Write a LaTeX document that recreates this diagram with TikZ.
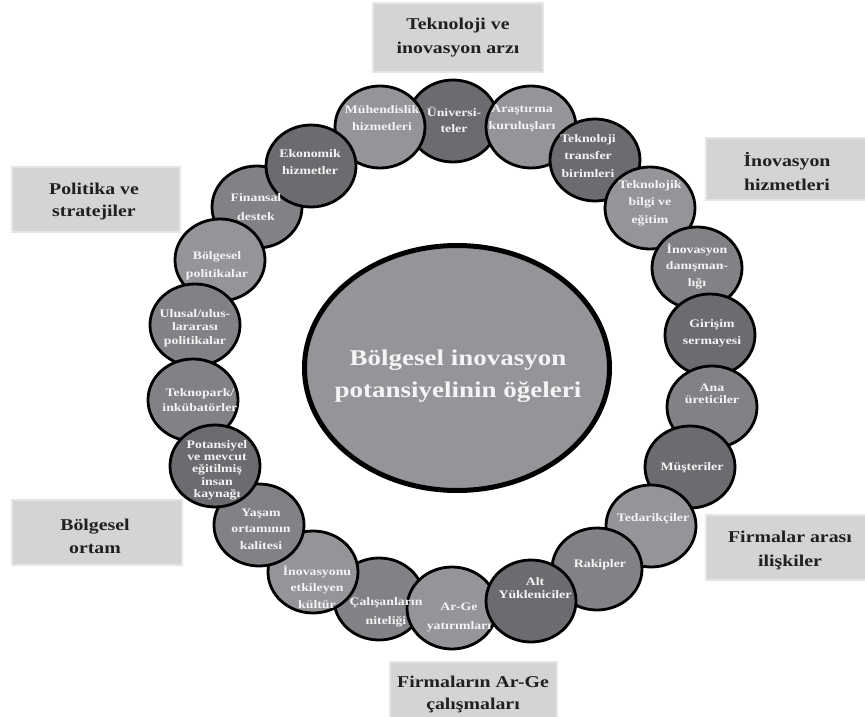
\documentclass[tikz,border=0pt]{standalone}
\usepackage{fontspec}
\setmainfont[FakeStretch=1.2]{Liberation Serif}
\usetikzlibrary{shapes.geometric}
\definecolor{glight}{HTML}{939598}
\definecolor{gmid}{HTML}{808285}
\definecolor{gdark}{HTML}{6B6C6F}
\definecolor{boxfill}{HTML}{D3D4D6}
\definecolor{boxedge}{HTML}{E4E5E6}
\definecolor{ink}{HTML}{231F20}
\definecolor{wtext}{HTML}{F4F4F4}
\tikzset{
  circ/.style={ellipse, draw=black, line width=2.8pt, minimum width=90pt, minimum height=82pt, inner sep=0pt},
  ctext/.style={text=wtext, font=\bfseries\fontsize{11.5}{17}\selectfont, align=center, inner sep=0pt},
  lbox/.style={fill=boxfill, draw=boxedge, line width=2pt, inner sep=0pt},
  btext/.style={text=ink, align=center, font=\bfseries\fontsize{16.5}{24}\selectfont},
}
\begin{document}
\begin{tikzpicture}[x=1pt,y=-1pt]
\useasboundingbox (0,0) rectangle (865,717);
% boxes
\node[lbox, minimum width=170pt, minimum height=69pt] (b1) at (458,37.5) {};
\node[btext] (bt1) at (458,37.5) {Teknoloji ve\\inovasyon arzı};
\node[lbox, minimum width=160pt, minimum height=62pt] (b2) at (786,169) {};
\node[btext] (bt2) at (787,172) {İnovasyon\\hizmetleri};
\node[lbox, minimum width=168pt, minimum height=65pt] (b3) at (96,199.5) {};
\node[btext, font=\bfseries\fontsize{16.5}{22}\selectfont] (bt3) at (94,202) {Politika ve\\stratejiler};
\node[lbox, minimum width=170pt, minimum height=65pt] (b4) at (97,532.5) {};
\node[btext, font=\bfseries\fontsize{16.5}{23}\selectfont] (bt4) at (95,536) {Bölgesel\\ortam};
\node[lbox, minimum width=160pt, minimum height=65pt] (b5) at (786,547.5) {};
\node[btext] (bt5) at (790,550) {Firmalar arası\\ilişkiler};
\node[lbox, minimum width=167pt, minimum height=70pt] (b6) at (473.5,697) {};
\node[btext, font=\bfseries\fontsize{16.5}{22}\selectfont] (bt6) at (473,694) {Firmaların Ar-Ge\\çalışmaları};
% center
\node[ellipse, draw=black, line width=5pt, fill=glight, minimum width=305pt, minimum height=245pt] (core) at (457,368) {};
\node[text=wtext, align=center, font=\bfseries\fontsize{22.5}{32}\selectfont] (coret) at (458,376) {Bölgesel inovasyon\\potansiyelinin öğeleri};
% ring circles (drawing order approximates overlaps)
\node[circ, fill=gdark] (c1) at (453,121) {};
\node[circ, fill=glight] (c22) at (380,127) {};
\node[circ, fill=gmid] (c20) at (257,207) {};
\node[circ, fill=gdark] (c21) at (311,166) {};
\node[circ, fill=glight] (c19) at (220,260) {};
\node[circ, fill=gmid] (c18) at (195,325) {};
\node[circ, fill=gmid] (c17) at (193,400) {};
\node[circ, fill=gmid] (c13) at (379,599) {};
\node[circ, fill=glight] (c14) at (313,572) {};
\node[circ, fill=gmid] (c15) at (259,525) {};
\node[circ, fill=gdark] (c16) at (215,466) {};
\node[circ, fill=glight] (c12) at (452,608) {};
\node[circ, fill=glight] (c2) at (531,127) {};
\node[circ, fill=gdark] (c3) at (595,160) {};
\node[circ, fill=glight] (c4) at (650,208) {};
\node[circ, fill=gmid] (c5) at (697,268) {};
\node[circ, fill=gdark] (c6) at (710,335) {};
\node[circ, fill=gmid] (c7) at (712,407) {};
\node[circ, fill=gdark] (c8) at (690,467) {};
\node[circ, fill=glight] (c9) at (651,526) {};
\node[circ, fill=gmid] (c10) at (597,569) {};
\node[circ, fill=gdark] (c11) at (531,601) {};
% texts
\node[ctext, font=\bfseries\fontsize{11.5}{16}\selectfont] (t1) at (454,120) {Üniversi-\\teler};
\node[ctext] (t2) at (522,118) {Araştırma\\kuruluşları};
\node[ctext, font=\bfseries\fontsize{11.5}{17.5}\selectfont] (t3) at (588,156) {Teknoloji\\transfer\\birimleri};
\node[ctext, font=\bfseries\fontsize{11.5}{17.5}\selectfont] (t4) at (650,203) {Teknolojik\\bilgi ve\\eğitim};
\node[ctext, font=\bfseries\fontsize{11.5}{16.5}\selectfont] (t5) at (697,266) {İnovasyon\\danışman-\\lığı};
\node[ctext] (t6) at (712,333) {Girişim\\sermayesi};
\node[ctext, font=\bfseries\fontsize{11.5}{12.5}\selectfont] (t7) at (712,394) {Ana\\üreticiler};
\node[ctext] (t8) at (692,468) {Müşteriler};
\node[ctext] (t9) at (653,519) {Tedarikçiler};
\node[ctext] (t10) at (600,565) {Rakipler};
\node[ctext, font=\bfseries\fontsize{11.5}{13}\selectfont] (t11) at (535,588) {Alt\\Yükleniciler};
\node[ctext, font=\bfseries\fontsize{11.5}{19}\selectfont] (t12) at (459,617) {Ar-Ge\\yatırımları};
\node[ctext, font=\bfseries\fontsize{11.5}{19}\selectfont] (t13) at (386,612) {Çalışanların\\niteliği};
\node[ctext, font=\bfseries\fontsize{11.5}{16.5}\selectfont] (t14) at (317,587) {İnovasyonu\\etkileyen\\kültür};
\node[ctext, font=\bfseries\fontsize{11.5}{16.5}\selectfont] (t15) at (261,529) {Yaşam\\ortamının\\kalitesi};
\node[ctext, font=\bfseries\fontsize{11.5}{12.3}\selectfont] (t16) at (217,470) {Potansiyel\\ve mevcut\\eğitilmiş\\insan\\kaynağı};
\node[ctext, font=\bfseries\fontsize{11.5}{15}\selectfont] (t17) at (200,400) {Teknopark/\\inkübatörler};
\node[ctext, font=\bfseries\fontsize{11.5}{13.5}\selectfont] (t18) at (195,328) {Ulusal/ulus-\\lararası\\politikalar};
\node[ctext, font=\bfseries\fontsize{11.5}{18}\selectfont] (t19) at (217,266) {Bölgesel\\politikalar};
\node[ctext, font=\bfseries\fontsize{11.5}{19}\selectfont] (t20) at (256,207) {Finansal\\destek};
\node[ctext] (t21) at (310,162) {Ekonomik\\hizmetler};
\node[ctext] (t22) at (382,118) {Mühendislik\\hizmetleri};
\end{tikzpicture}
\end{document}
